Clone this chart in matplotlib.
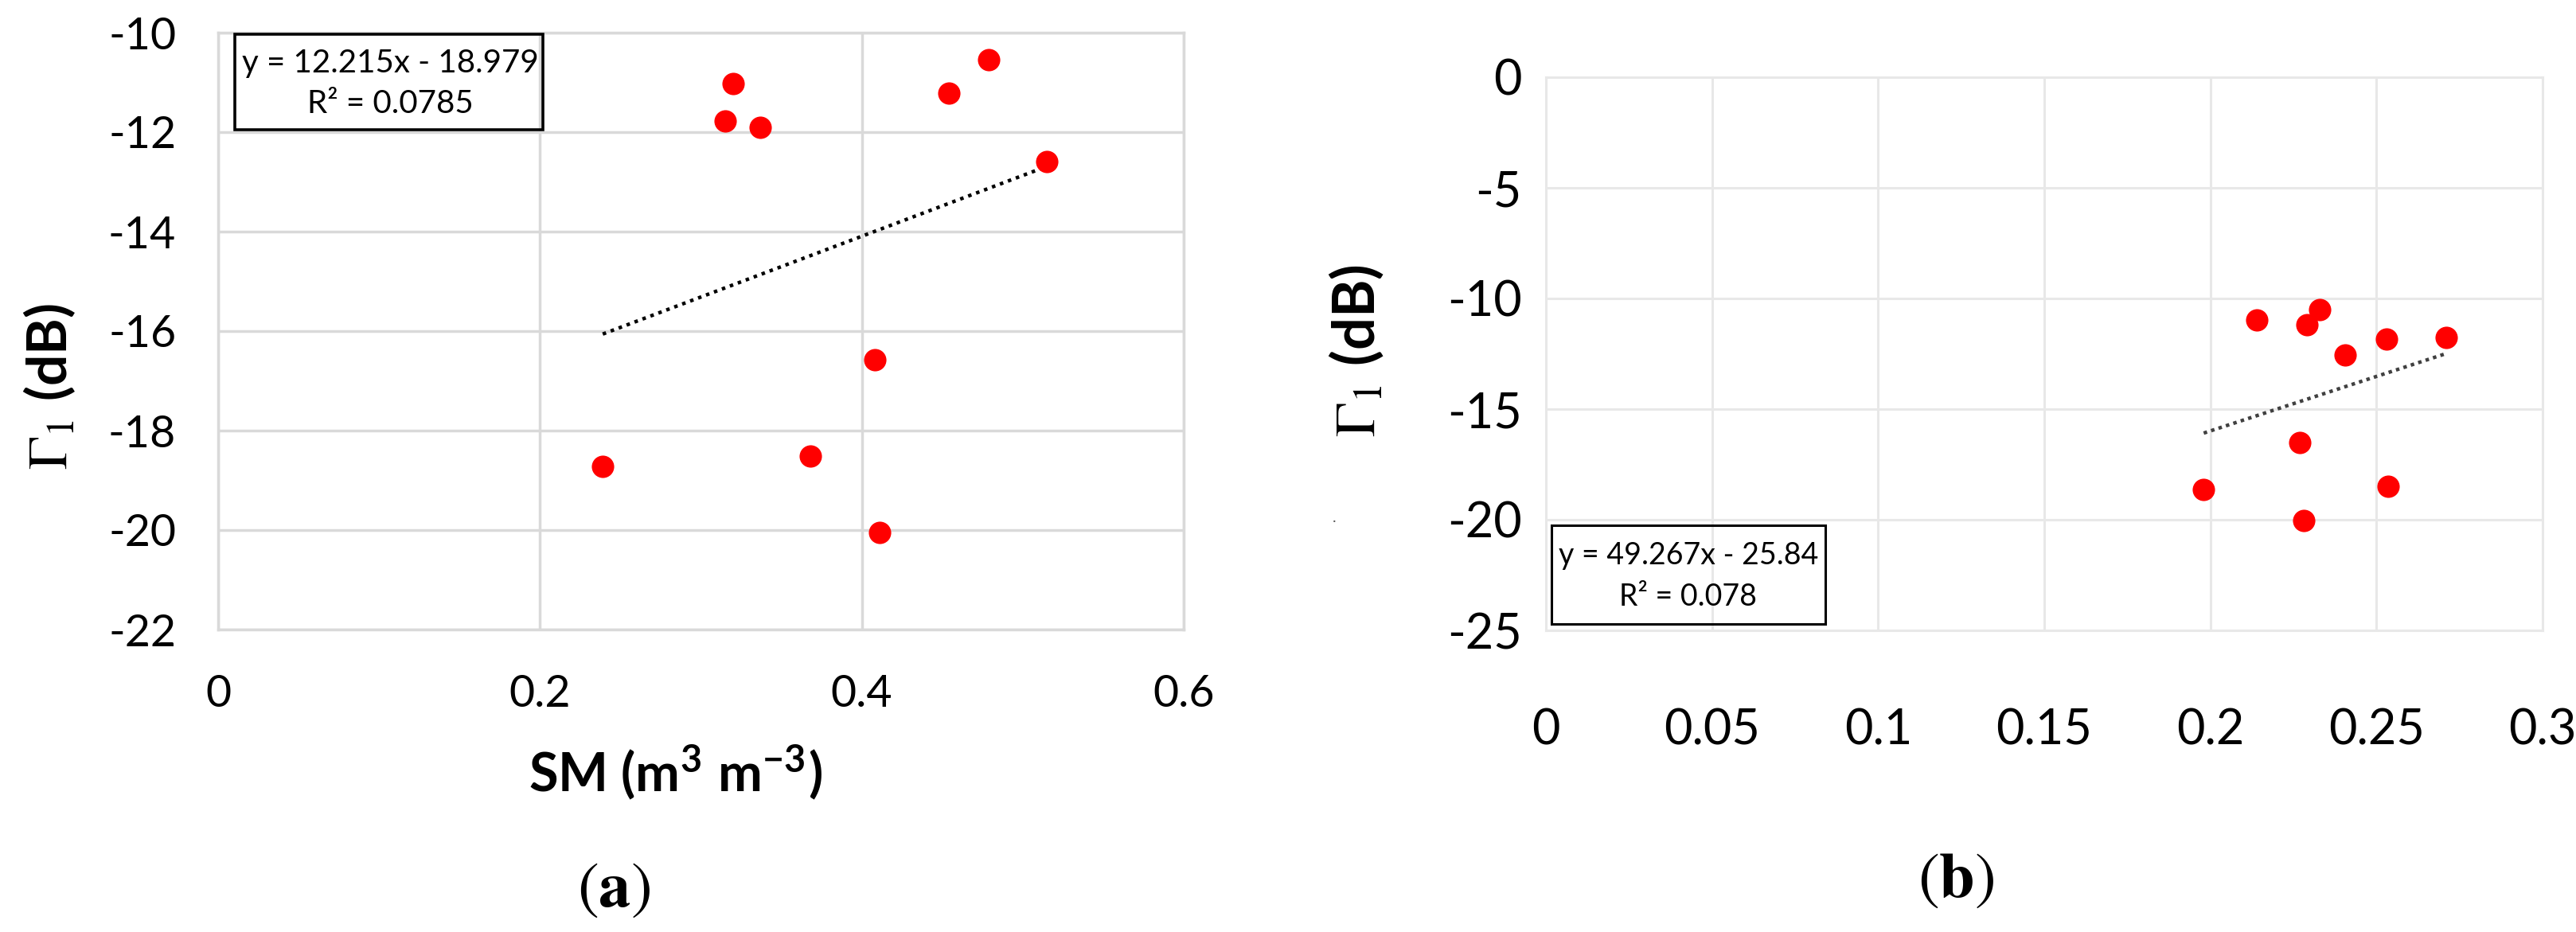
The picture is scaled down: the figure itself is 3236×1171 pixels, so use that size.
import matplotlib.pyplot as plt
from matplotlib.patches import Rectangle
import numpy as np

# panel (a): soil moisture vs Gamma_1
sm_a = [0.239, 0.320, 0.315, 0.337, 0.368, 0.408, 0.411, 0.454, 0.479, 0.515]
g1_a = [-18.72, -11.02, -11.77, -11.90, -18.51, -16.57, -20.04, -11.22, -10.54, -12.59]
fit_a = [12.215, -18.979]
r2_a = "0.0785"

# panel (b)
sm_b = [0.198, 0.214, 0.227, 0.228, 0.229, 0.233, 0.2405, 0.253, 0.2535, 0.271]
g1_b = [-18.64, -10.98, -16.50, -20.03, -11.19, -10.52, -12.55, -11.83, -18.48, -11.75]
fit_b = [49.267, -25.84]
r2_b = "0.078"

xticks_a = [0, 0.2, 0.4, 0.6]
yticks_a = [-22, -20, -18, -16, -14, -12, -10]
xticks_b = [0, 0.05, 0.1, 0.15, 0.2, 0.25, 0.3]
yticks_b = [-25, -20, -15, -10, -5, 0]

plt.rcParams['font.family'] = ['Lato', 'DejaVu Sans']
plt.rcParams['mathtext.fontset'] = 'stix'

W, H = 3236, 1171
fig = plt.figure(figsize=(W / 100, H / 100), dpi=100)


def fx(x):
    return x / W


def fy(y):
    return 1 - y / H


def setup(ax, xt, yt, gcol, glw, tsize, xpad, ypad):
    ax.set_xticks(xt)
    ax.set_yticks(yt)
    ax.set_xticklabels([("%g" % v) for v in xt])
    ax.set_yticklabels([("%g" % v) for v in yt])
    ax.set_xlim(xt[0], xt[-1])
    ax.set_ylim(yt[0], yt[-1])
    ax.grid(True, color=gcol, lw=glw)
    ax.set_axisbelow(True)
    for s in ax.spines.values():
        s.set_color(gcol)
        s.set_linewidth(glw)
    ax.tick_params(length=0, labelsize=tsize, colors='black')
    ax.tick_params(axis='x', pad=xpad)
    ax.tick_params(axis='y', pad=ypad)


# ---- (a)
ax1 = fig.add_axes([fx(274), fy(791), fx(1487 - 274), (791 - 41) / H])
setup(ax1, xticks_a, yticks_a, '#d9d9d9', 2.5, 40, 40, 38)
xa = np.array([min(sm_a), max(sm_a)])
ax1.plot(xa, fit_a[0] * xa + fit_a[1], color='black', lw=3.2,
         linestyle=(0, (1, 1.4)), zorder=2)
ax1.scatter(sm_a, g1_a, s=410, color='#ff0000', zorder=3, linewidths=0)

fig.patches.append(Rectangle((fx(295), fy(163)), fx(682 - 295), (163 - 43) / H,
                             transform=fig.transFigure, fill=False,
                             edgecolor='black', lw=2.6))
fig.text(fx(490), fy(80), "y = %.3fx - %.3f" % (fit_a[0], -fit_a[1]),
         ha='center', va='center', fontsize=29)
fig.text(fx(490), fy(130), "R² = " + r2_a, ha='center', va='center', fontsize=29)

fig.text(fx(62), fy(486), r"$\Gamma_1$ (dB)", rotation=90, ha='center',
         va='center', fontsize=50, fontweight='bold')
fig.text(fx(848), fy(970), r"SM (m$^{\mathregular{3}}$ m$^{\mathregular{-3}}$)",
         ha='center', va='center', fontsize=48, fontweight='bold')
fig.text(fx(771), fy(1120), r"($\mathbf{a}$)", ha='center', va='center',
         fontsize=58, family='STIXGeneral')

# ---- (b)
ax2 = fig.add_axes([fx(1942), fy(792), fx(3194 - 1942), (792 - 97) / H])
setup(ax2, xticks_b, yticks_b, '#e8e8e8', 2.2, 44, 70, 22)
xb = np.array([min(sm_b), max(sm_b)])
ax2.plot(xb, fit_b[0] * xb + fit_b[1], color='#404040', lw=3.2,
         linestyle=(0, (1, 1.2)), zorder=2)
ax2.scatter(sm_b, g1_b, s=410, color='#ff0000', zorder=3, linewidths=0)

fig.patches.append(Rectangle((fx(1949), fy(784)), fx(2293 - 1949), (784 - 660) / H,
                             transform=fig.transFigure, fill=False,
                             edgecolor='black', lw=2.2))
fig.text(fx(2121), fy(698), "y = %.3fx - %.2f" % (fit_b[0], -fit_b[1]),
         ha='center', va='center', fontsize=27)
fig.text(fx(2121), fy(750), "R² = " + r2_b, ha='center', va='center', fontsize=27)

fig.text(fx(1704), fy(440), r"$\Gamma_1$ (dB)", rotation=90, ha='center',
         va='center', fontsize=52, fontweight='bold')
fig.text(fx(1676), fy(650), ".", ha='center', va='center', fontsize=14,
         color='#555555')
fig.text(fx(2457), fy(1108), r"($\mathbf{b}$)", ha='center', va='center',
         fontsize=58, family='STIXGeneral')

fig.savefig("out.png", dpi=100)
